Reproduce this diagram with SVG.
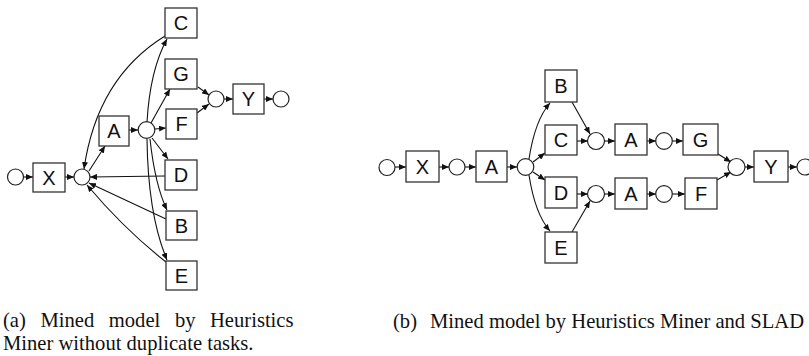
<svg xmlns="http://www.w3.org/2000/svg" width="809" height="356" viewBox="0 0 809 356">
  <style>
    .place { fill: #fff; stroke: #222; stroke-width: 1.2; }
    .task rect { fill: #fff; stroke: #333; stroke-width: 1.3; }
    .task text { font-family: "Liberation Sans", Arial, sans-serif; font-size: 20px; text-anchor: middle; fill: #111; }
    .edges path { fill: none; stroke: #111; stroke-width: 1.1; marker-end: url(#arrow); }
    .caption { font-family: "Liberation Serif", "Times New Roman", serif; font-size: 20.6px; fill: #111; }
  </style>
  <defs>
    <marker id="arrow" markerUnits="userSpaceOnUse" markerWidth="8" markerHeight="6" refX="7" refY="3" orient="auto">
      <path d="M0,0 L7,3 L0,6 z" fill="#111"/>
    </marker>
  </defs>

  <rect width="809" height="356" fill="#fff"/>

  <!-- (a) model without duplicate tasks -->
  <g id="a-edges" class="edges">
    <path d="M23.5,177 L33,177"/>
    <path d="M65,177 L74,177"/>
    <path d="M89,171 L105,146"/>
    <path d="M129,130 L138,130"/>
    <path d="M155,129 L166,128"/>
    <path d="M151,123 L170,89"/>
    <path d="M147,122 Q150,70 167,39"/>
    <path d="M152,138 L168,159"/>
    <path d="M150,139 Q155,185 167,210"/>
    <path d="M147,139 Q148,215 167,260"/>
    <path d="M165,36 Q97,78 84,169"/>
    <path d="M165,176 L90,177"/>
    <path d="M166,219 L89,183"/>
    <path d="M166,262 Q125,230 87,185"/>
    <path d="M198,87 L209,95"/>
    <path d="M197,113 L209,104"/>
    <path d="M224,99 L233,99"/>
    <path d="M264,99 L273,99"/>
  </g>

  <g id="a-start"><circle class="place" cx="15.5" cy="177" r="8"/></g>
  <g id="a-X" class="task"><rect x="33" y="163" width="32" height="29"/><text x="49" y="185">X</text></g>
  <g id="a-p1"><circle class="place" cx="82" cy="177" r="8"/></g>
  <g id="a-A" class="task"><rect x="99" y="116" width="30" height="30"/><text x="114" y="138">A</text></g>
  <g id="a-p2"><circle class="place" cx="146.5" cy="130" r="8.3"/></g>
  <g id="a-C" class="task"><rect x="165" y="8" width="32" height="30"/><text x="181" y="30">C</text></g>
  <g id="a-G" class="task"><rect x="165" y="59" width="32" height="30"/><text x="181" y="81">G</text></g>
  <g id="a-F" class="task"><rect x="166" y="109" width="31" height="30"/><text x="181.5" y="131">F</text></g>
  <g id="a-D" class="task"><rect x="165" y="160" width="32" height="30"/><text x="181" y="182">D</text></g>
  <g id="a-B" class="task"><rect x="166" y="211" width="31" height="29"/><text x="181.5" y="232.5">B</text></g>
  <g id="a-E" class="task"><rect x="166" y="261" width="31" height="29"/><text x="181.5" y="282.5">E</text></g>
  <g id="a-p3"><circle class="place" cx="216" cy="99" r="8"/></g>
  <g id="a-Y" class="task"><rect x="233" y="84" width="31" height="30"/><text x="248.5" y="106">Y</text></g>
  <g id="a-end"><circle class="place" cx="281" cy="99" r="8"/></g>

  <!-- (b) model with duplicate tasks -->
  <g id="b-edges" class="edges">
    <path d="M395,167 L406,167"/>
    <path d="M439,167 L449,167"/>
    <path d="M465,167 L476,167"/>
    <path d="M507,167 L517,167"/>
    <path d="M529,159 Q535,120 550,103"/>
    <path d="M533,162 L545,153"/>
    <path d="M533,172 L545,180"/>
    <path d="M529,175 Q535,214 550,231"/>
    <path d="M572,102 L590,134"/>
    <path d="M577,141 L588,141"/>
    <path d="M577,194 L588,194"/>
    <path d="M572,232 L590,201"/>
    <path d="M604,141 L615,141"/>
    <path d="M647,141 L656,141"/>
    <path d="M672,141 L683,141"/>
    <path d="M604,194 L615,194"/>
    <path d="M647,194 L656,194"/>
    <path d="M672,194 L685,194"/>
    <path d="M718,154 L731,162"/>
    <path d="M717,180 L731,172"/>
    <path d="M745,167 L754,167"/>
    <path d="M788,167 L797,167"/>
  </g>

  <g id="b-start"><circle class="place" cx="387" cy="167.5" r="8"/></g>
  <g id="b-X" class="task"><rect x="406" y="151" width="33" height="31"/><text x="422.5" y="174">X</text></g>
  <g id="b-p1"><circle class="place" cx="457" cy="167" r="8"/></g>
  <g id="b-A" class="task"><rect x="476" y="151" width="31" height="31"/><text x="491.5" y="174">A</text></g>
  <g id="b-p2"><circle class="place" cx="525.5" cy="167" r="8.3"/></g>
  <g id="b-B" class="task"><rect x="545" y="70" width="32" height="32"/><text x="561" y="93">B</text></g>
  <g id="b-C" class="task"><rect x="545" y="125" width="32" height="30"/><text x="561" y="147">C</text></g>
  <g id="b-D" class="task"><rect x="545" y="177" width="32" height="31"/><text x="561" y="200">D</text></g>
  <g id="b-E" class="task"><rect x="545" y="232" width="32" height="31"/><text x="561" y="255">E</text></g>
  <g id="b-p3"><circle class="place" cx="596" cy="141" r="8.5"/></g>
  <g id="b-p4"><circle class="place" cx="596" cy="194" r="8.5"/></g>
  <g id="b-A1" class="task"><rect x="615" y="124" width="32" height="31"/><text x="631" y="147">A</text></g>
  <g id="b-A2" class="task"><rect x="615" y="178" width="32" height="31"/><text x="631" y="201">A</text></g>
  <g id="b-p5"><circle class="place" cx="664" cy="141" r="8.3"/></g>
  <g id="b-p6"><circle class="place" cx="664" cy="194" r="8.3"/></g>
  <g id="b-G" class="task"><rect x="683" y="124" width="35" height="31"/><text x="700.5" y="147">G</text></g>
  <g id="b-F" class="task"><rect x="685" y="178" width="32" height="31"/><text x="701" y="201">F</text></g>
  <g id="b-p7"><circle class="place" cx="736.5" cy="167" r="8.5"/></g>
  <g id="b-Y" class="task"><rect x="754" y="151" width="34" height="31"/><text x="771" y="174">Y</text></g>
  <g id="b-end"><circle class="place" cx="805" cy="167" r="8"/></g>

  <!-- captions (line 1 of (a) is justified word by word) -->
  <g id="captions" class="caption">
    <text x="3" y="327">(a)</text>
    <text x="40.5" y="327">Mined</text>
    <text x="108.8" y="327">model</text>
    <text x="174.9" y="327">by</text>
    <text x="210" y="327">Heuristics</text>
    <text x="3" y="350">Miner without duplicate tasks.</text>
    <text x="393" y="328">(b)</text>
    <text x="430" y="328">Mined model by Heuristics Miner and SLAD</text>
  </g>
</svg>
